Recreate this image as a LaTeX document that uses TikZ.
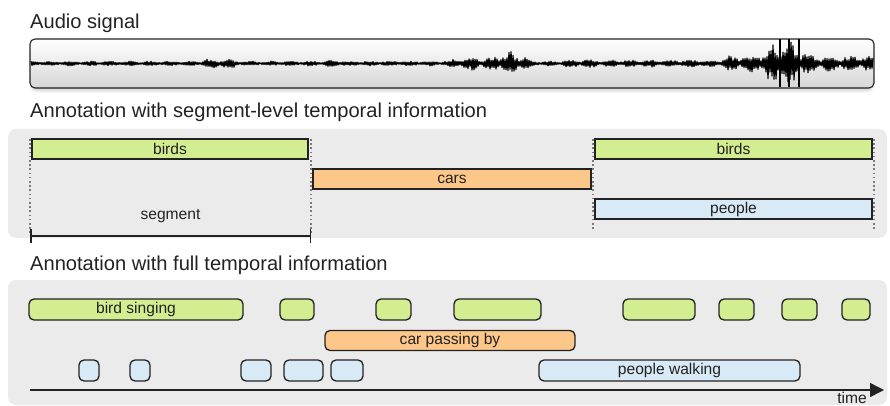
\documentclass[tikz,border=0pt]{standalone}
\usepackage{fontspec}
\setmainfont{Liberation Sans}
\usepackage{xcolor}
\usepackage{tikz}
\usetikzlibrary{arrows.meta,positioning}
\definecolor{inkc}{HTML}{222222}
\definecolor{panelc}{HTML}{EBEBEB}
\definecolor{birdc}{HTML}{D3ED91}
\definecolor{carc}{HTML}{FEC78A}
\definecolor{peoplec}{HTML}{D8EAF6}
\definecolor{guidec}{HTML}{7A7A7A}
\tikzset{
  ttl/.style={anchor=base west,inner sep=0pt,font=\fontsize{20.1}{23}\selectfont,text=inkc},
  seg/.style={draw=inkc,line width=1.3pt,inner sep=0pt,minimum height=20pt,font=\fontsize{15.6}{18}\selectfont,text=inkc},
  ev/.style={seg,rounded corners=5pt,minimum height=21pt},
  guide/.style={guidec,line width=1.2pt,dash pattern=on 1.6pt off 2.6pt},
  axis/.style={inkc,line width=1.4pt,-{Triangle[length=14pt,width=14pt]}}
}

\begin{document}
\begin{tikzpicture}[x=1pt,y=-1pt,
  declare function={
    tri(\x,\c,\w)=max(0,1-abs(\x-\c)/\w);
    plat(\x,\a,\b)=min(1,max(0,min(\x-\a,\b-\x)/8));
    env(\x)=2.4+2.5*plat(\x,200,240)+1.5*plat(\x,325,345)
      +3.2*plat(\x,447,535)+4*plat(\x,490,530)+5*tri(\x,475,5)+3*tri(\x,510,5)
      +2*plat(\x,560,600)+1.2*plat(\x,600,720)
      +5.5*plat(\x,718,880)+5*plat(\x,750,812)+9*plat(\x,765,800);
    bead(\x)=0.3+0.7*abs(sin(9*\x));
  }]
\useasboundingbox (0,0) rectangle (890,406);

% audio signal
\node[ttl] (ttlaudio) at (30,29) {Audio signal};
\foreach \k in {1,...,5}
  \fill[black,opacity=.035,rounded corners=5pt] (31,39+\k) rectangle (873,88+\k);
\node[draw=inkc,line width=1.1pt,rounded corners=5pt,top color=white,bottom color=black!16,
      minimum width=844pt,minimum height=49pt,inner sep=0pt] (audio) at (452,63.5) {};
\coordinate (w0) at (31,63.5);
\coordinate (w1) at (873,63.5);
\draw[black,line width=1.5pt] (w0) -- (w1);
\pgfmathsetseed{11}
\draw[black,line width=1.2pt,line join=round]
  plot[domain=31:873,samples=843]
  (\x,{63.5+cos(180*mod(round(\x),2))*env(\x)*bead(\x)*(0.45+0.55*rnd)});
\foreach \px in {780,789,799}
  \draw[black,line width=1.6pt] (\px,39.5) -- (\px,87.5);

% segment-level annotation
\node[ttl] (ttlseg) at (30,118) {Annotation with segment-level temporal information};
\fill[panelc,rounded corners=8pt] (8,129) rectangle (887,238);
\foreach \px/\yb [count=\i] in {30/234,311/234,593/229,874/229}{
  \coordinate (gt\i) at (\px,139);
  \coordinate (gb\i) at (\px,\yb);
  \draw[guide] (gt\i) -- (gb\i);
}
\node[seg,fill=birdc,minimum width=276pt] (sb1) at (170,149) {birds};
\node[seg,fill=birdc,minimum width=277pt] (sb2) at (733.5,149) {birds};
\node[seg,fill=carc,minimum width=278pt] (sc) at (452,179) {cars};
\node[seg,fill=peoplec,minimum width=277pt] (sp) at (733.5,209) {people};
\coordinate (m0) at (30,236);
\coordinate (m1) at (311,236);
\draw[inkc,line width=1.5pt,{Bar[width=14pt]}-{Bar[width=14pt]}] (m0) -- (m1)
  node[midway,above=12.5pt,inner sep=0pt,font=\fontsize{15.6}{18}\selectfont,text=inkc] (seglbl) {segment};

% full temporal annotation
\node[ttl] (ttlfull) at (30,270) {Annotation with full temporal information};
\fill[panelc,rounded corners=8pt] (8,280) rectangle (887,405);
\node[ev,fill=birdc,minimum width=214pt] (fbird) at (136,309.5) {bird singing};
\foreach \a/\b [count=\i] in {280/314,376/411,454/541,623/695,719/754,782/817,842/870}
  \node[ev,fill=birdc,minimum width=\b-\a] (fb\i) at ({(\a+\b)/2},309.5) {};
\node[ev,fill=carc,minimum width=250pt,minimum height=20pt] (fcar) at (450,340.5) {car passing by};
\foreach \a/\b [count=\i] in {79/99,130/150,241/271,284/323,331/363}
  \node[ev,fill=peoplec,minimum width=\b-\a] (fp\i) at ({(\a+\b)/2},370.5) {};
\node[ev,fill=peoplec,minimum width=261pt] (fpeople) at (669.5,370.5) {people walking};

\coordinate (t0) at (30,390);
\coordinate (t1) at (884,390);
\draw[axis] (t0) -- (t1);
\node[anchor=base east,inner sep=0pt,font=\fontsize{15.6}{18}\selectfont,text=inkc] (tlbl) at (867,403) {time};
\end{tikzpicture}
\end{document}
